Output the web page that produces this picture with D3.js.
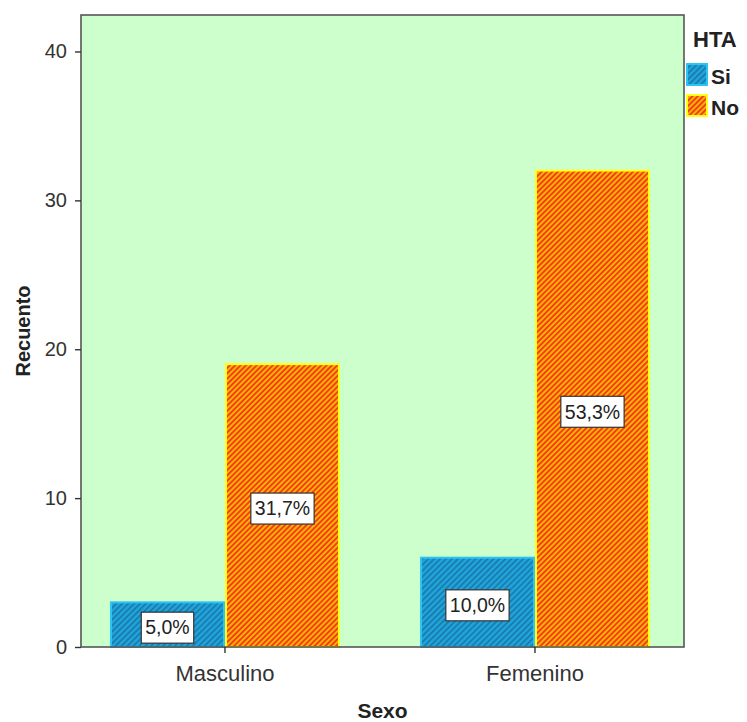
<!DOCTYPE html>
<html><head><meta charset="utf-8">
<script src="https://cdn.jsdelivr.net/npm/d3@7"></script>
<style>body{margin:0;background:#fff;}svg{display:block;font-family:"Liberation Sans",Arial,sans-serif;}</style>
</head><body><svg id="c" width="747" height="722"></svg>
<script>
const categories = ["Masculino", "Femenino"];
const seriesNames = ["Si", "No"];
const siValues = [3, 6];
const noValues = [19, 32];
const siLabels = ["5,0%", "10,0%"];
const noLabels = ["31,7%", "53,3%"];
const yTicks = [0, 10, 20, 30, 40];

const svg = d3.select("#c");
const L = 81, R = 684, T = 15, B = 647;

const defs = svg.append("defs");
function hatch(id, base, stripe, w, per) {
  const p = defs.append("pattern").attr("id", id).attr("patternUnits", "userSpaceOnUse")
    .attr("width", per).attr("height", per).attr("patternTransform", "rotate(45)");
  p.append("rect").attr("width", per).attr("height", per).attr("fill", base);
  p.append("rect").attr("width", w).attr("height", per).attr("fill", stripe);
}
hatch("pSi", "#1fa3d8", "#1a7cae", 1.7, 4.2);
hatch("pNo", "#f33c1c", "#ffb400", 1.9, 3.8);

const y = d3.scaleLinear().domain([0, 42.45]).range([B, T]);
const x = d3.scaleBand().domain(categories).range([L, R]).paddingOuter(0.1016).paddingInner(0.258).align(0.46);
const xs = d3.scaleBand().domain(seriesNames).range([0, x.bandwidth()]);

svg.append("rect").attr("x", L).attr("y", T).attr("width", R - L).attr("height", B - T).attr("fill", "#ccffcc");

const data = [];
categories.forEach((c, i) => {
  data.push({c, s: "Si", v: siValues[i], lab: siLabels[i]});
  data.push({c, s: "No", v: noValues[i], lab: noLabels[i]});
});

const g = svg.append("g");
g.selectAll("rect.bar").data(data).join("rect").attr("class", "bar")
  .attr("x", d => x(d.c) + xs(d.s) + 1)
  .attr("y", d => y(d.v))
  .attr("width", xs.bandwidth() - 2)
  .attr("height", d => B - y(d.v))
  .attr("fill", d => d.s === "Si" ? "url(#pSi)" : "url(#pNo)")
  .attr("stroke", d => d.s === "Si" ? "#2ec4f2" : "#ffff1a")
  .attr("stroke-width", 2);

const lab = g.selectAll("g.lab").data(data).join("g").attr("class", "lab")
  .attr("transform", d => `translate(${x(d.c) + xs(d.s) + xs.bandwidth() / 2},${(y(d.v) + B) / 2 + 3})`);
lab.each(function(d) {
  const gg = d3.select(this);
  const t = gg.append("text").attr("text-anchor", "middle").attr("dy", "0.35em")
    .attr("font-size", 19.5).attr("fill", "#222").text(d.lab);
  const bb = t.node().getBBox();
  gg.insert("rect", "text").attr("x", bb.x - 4).attr("y", -15.5).attr("width", bb.width + 8).attr("height", 31)
    .attr("fill", "#fff").attr("stroke", "#333").attr("stroke-width", 1.2);
});

svg.append("rect").attr("x", L).attr("y", T).attr("width", R - L).attr("height", B - T)
  .attr("fill", "none").attr("stroke", "#555").attr("stroke-width", 1.6);

const ya = svg.append("g").attr("transform", `translate(${L},0)`)
  .call(d3.axisLeft(y).tickValues(yTicks).tickSize(6).tickPadding(8));
ya.select(".domain").remove();
ya.selectAll("text").attr("font-size", 20).attr("fill", "#333").attr("font-family", "Liberation Sans, Arial, sans-serif");
ya.selectAll("line").attr("stroke", "#333").attr("stroke-width", 1.4);

const xa = svg.append("g").attr("transform", `translate(0,${B})`)
  .call(d3.axisBottom(x).tickSize(6).tickPadding(12));
xa.select(".domain").remove();
xa.selectAll("text").attr("font-size", 22).attr("fill", "#333").attr("font-family", "Liberation Sans, Arial, sans-serif");
xa.selectAll("line").attr("stroke", "#333").attr("stroke-width", 1.4);

svg.append("text").attr("x", (L + R) / 2).attr("y", 718).attr("text-anchor", "middle")
  .attr("font-size", 21).attr("font-weight", "bold").attr("fill", "#222").text("Sexo");
svg.append("text").attr("transform", `translate(30,${(T + B) / 2}) rotate(-90)`).attr("text-anchor", "middle")
  .attr("font-size", 20).attr("font-weight", "bold").attr("fill", "#222").text("Recuento");

const lg = svg.append("g");
lg.append("text").attr("x", 693).attr("y", 47).attr("font-size", 22).attr("font-weight", "bold").attr("fill", "#222").text("HTA");
seriesNames.forEach((s, i) => {
  const yy = 63 + i * 31;
  lg.append("rect").attr("x", 687).attr("y", yy + 1).attr("width", 20).attr("height", 21)
    .attr("fill", s === "Si" ? "url(#pSi)" : "url(#pNo)")
    .attr("stroke", s === "Si" ? "#2ec4f2" : "#ffff1a").attr("stroke-width", 2);
  lg.append("text").attr("x", 711).attr("y", yy + 21).attr("font-size", 21).attr("font-weight", "bold").attr("fill", "#222").text(s);
});
</script></body></html>
